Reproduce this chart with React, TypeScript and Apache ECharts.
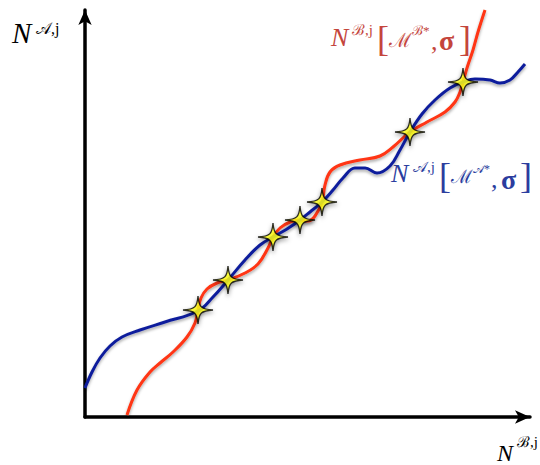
import React, { useEffect, useRef } from "react";
import * as echarts from "echarts";

// Data coordinates: x to the right of the vertical axis, y above the horizontal axis
const blueCurve: [number, number][] = [
  [0, 27], [7, 43], [15, 57], [25, 69], [37, 78], [55, 85], [80, 93], [113, 104],
  [128, 118], [143, 135], [160, 155], [175, 170], [188, 178], [202, 186], [215, 195],
  [225, 203], [237, 213], [248, 225], [258, 237], [270, 247], [280, 247], [292, 242],
  [305, 249], [315, 265], [325, 283], [337, 301], [350, 315], [365, 327], [378, 333],
  [390, 336], [405, 335], [415, 332], [425, 335], [433, 343], [440, 351],
];

const redCurve: [number, number][] = [
  [42, 0], [52, 25], [65, 43], [75, 52], [88, 63], [102, 78], [110, 92], [113, 105],
  [116, 117], [122, 126], [132, 132], [143, 135], [160, 142], [173, 151], [183, 167],
  [188, 178], [195, 187], [205, 193], [215, 195], [223, 194], [230, 199], [237, 213],
  [240, 230], [245, 243], [255, 250], [275, 255], [295, 259], [308, 268], [325, 283],
  [342, 293], [360, 303], [370, 313], [375, 323], [378, 333], [382, 347], [388, 365],
  [393, 383], [400, 405],
];

const crossings: [number, number][] = [
  [113, 105], [143, 135], [188, 178], [215, 195], [237, 213], [325, 283], [378, 333],
];

const xRange = [0, 445];
const yRange = [-2, 405];

const yAxisName = ["N", "𝒜,j"];
const xAxisName = ["N", "ℬ,j"];
const redLabel = ["N", "ℬ,j", "[", "ℳ", "ℬ*", ",", "σ", "]"];
const blueLabel = ["N", "𝒜,j", "[", "ℳ", "𝒜*", ",", "σ", "]"];

const STAR =
  "path://M50,0 C53,40 60,47 100,50 C60,53 53,60 50,100 C47,60 40,53 0,50 C40,47 47,40 50,0 Z";

const SERIF = "'Liberation Serif', 'DejaVu Serif', serif";
const RED_TXT = "#c4453c";
const BLUE_TXT = "#2b3d9e";

let ctx: CanvasRenderingContext2D | null = null;
function fontStr(size: number, italic?: boolean, bold?: boolean) {
  return `${italic ? "italic " : ""}${bold ? "bold " : ""}${size}px ${SERIF}`;
}
function fitSize(text: string, size: number, maxW: number, italic?: boolean, bold?: boolean) {
  if (!ctx) ctx = document.createElement("canvas").getContext("2d");
  if (!ctx) return size;
  ctx.font = fontStr(size, italic, bold);
  const w = ctx.measureText(text).width;
  return w > maxW ? Math.floor((size * maxW) / w * 10) / 10 : size;
}

// [x, centerY, size, maxWidth, italic, bold]
type Spot = [number, number, number, number, boolean?, boolean?];

function txt(text: string, spot: Spot, fill: string) {
  const [x, y, size, maxW, italic, bold] = spot;
  const s = fitSize(text, size, maxW, italic, bold);
  return {
    type: "text",
    x,
    y,
    silent: true,
    style: {
      text,
      fill,
      font: fontStr(s, italic, bold),
      verticalAlign: "middle",
      align: "left",
    },
  };
}

const yNameSpots: Spot[] = [
  [12, 33, 29, 25, true],
  [36, 28.5, 16, 27],
];
const xNameSpots: Spot[] = [
  [497, 452.5, 24, 21, true],
  [517, 442, 15, 22],
];
const redSpots: Spot[] = [
  [331, 37, 26, 22, true],
  [352, 30, 15, 26],
  [377, 39, 40, 12],
  [389, 39.5, 24, 23],
  [412, 30.5, 14, 18],
  [431, 41, 26, 7],
  [439, 40, 28, 21, false, true],
  [459, 39, 40, 12],
];
const blueSpots: Spot[] = [
  [391, 173.5, 26, 22, true],
  [413, 167, 15, 26],
  [439, 175.5, 40, 12],
  [451, 176, 24, 22],
  [473, 169, 14, 17],
  [491, 179, 26, 7],
  [501, 179, 28, 19, false, true],
  [520, 175.5, 40, 12],
];

export default function App() {
  const ref = useRef<HTMLDivElement>(null);
  useEffect(() => {
    document.body.style.margin = "0";
    const chart = echarts.init(ref.current!, null, { renderer: "svg" });
    const axisCommon = {
      type: "value",
      axisLine: {
        show: true,
        onZero: false,
        symbol: ["none", "arrow"],
        symbolSize: [10, 15],
        lineStyle: { color: "#000", width: 3.5 },
      },
      axisTick: { show: false },
      axisLabel: { show: false },
      splitLine: { show: false },
    };
    const shadow = {
      shadowColor: "rgba(0,0,0,0.35)",
      shadowBlur: 3,
      shadowOffsetY: 2,
    };
    const graphic: any[] = [];
    yAxisName.forEach((t, i) => graphic.push(txt(t, yNameSpots[i], "#000")));
    xAxisName.forEach((t, i) => graphic.push(txt(t, xNameSpots[i], "#000")));
    redLabel.forEach((t, i) => graphic.push(txt(t, redSpots[i], RED_TXT)));
    blueLabel.forEach((t, i) => graphic.push(txt(t, blueSpots[i], BLUE_TXT)));
    chart.setOption({
      animation: false,
      backgroundColor: "#fff",
      grid: { left: 85, right: 10, top: 10, bottom: 48 },
      xAxis: { ...axisCommon, min: xRange[0], max: xRange[1] },
      yAxis: { ...axisCommon, min: yRange[0], max: yRange[1] },
      series: [
        {
          type: "line",
          data: redCurve,
          smooth: 0.4,
          symbol: "none",
          clip: false,
          lineStyle: { color: "#ff3512", width: 3, ...shadow },
          z: 2,
        },
        {
          type: "line",
          data: blueCurve,
          smooth: 0.4,
          symbol: "none",
          clip: false,
          lineStyle: { color: "#0f1e9c", width: 3, ...shadow },
          z: 3,
        },
        {
          type: "scatter",
          data: crossings,
          symbol: STAR,
          symbolSize: [30, 28],
          itemStyle: {
            color: "#ffff1a",
            borderColor: "#000",
            borderWidth: 1.3,
            shadowColor: "rgba(0,0,0,0.5)",
            shadowBlur: 4,
            shadowOffsetY: 2,
          },
          z: 5,
        },
      ],
      graphic,
    });
    return () => chart.dispose();
  }, []);
  return (
    <div
      ref={ref}
      style={{ position: "absolute", left: 0, top: 0, width: 540, height: 465 }}
    />
  );
}
